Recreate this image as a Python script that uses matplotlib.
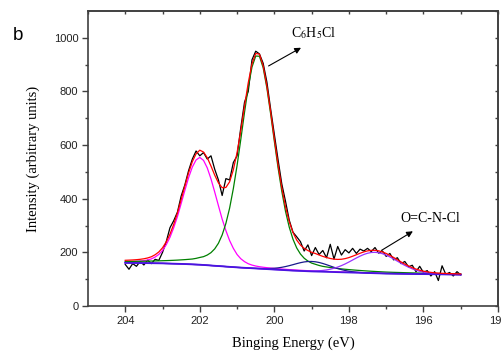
import numpy as np
import matplotlib
matplotlib.use('Agg')
import matplotlib.pyplot as plt

plt.rcParams['font.family'] = 'Liberation Serif'
plt.rcParams['mathtext.fontset'] = 'stix'

# binding energy grid (eV), 0.1 eV step
energy = np.round(np.linspace(204.0, 195.0, 91), 1)

# measured Cl 2p spectrum
raw = [155, 137, 158, 148, 166, 153, 171, 158, 174, 170,
       200, 240, 292, 318, 350, 410, 452, 505, 548, 578,
       560, 572, 548, 560, 510, 470, 412, 475, 470, 535,
       560, 665, 760, 800, 918, 950, 940, 905, 835, 735,
       640, 545, 455, 390, 320, 275, 258, 240, 205, 228,
       188, 218, 192, 207, 180, 230, 175, 222, 190, 210,
       198, 215, 196, 212, 205, 215, 203, 218, 197, 205,
       185, 196, 172, 180, 158, 166, 146, 152, 128, 148,
       125, 132, 112, 128, 95, 150, 118, 125, 112, 128,
       116]

# Shirley-type background
background = [161.0, 160.8, 160.6, 160.4, 160.2, 160.0, 159.8, 159.6, 159.4, 159.2,
              159.0, 158.6, 158.2, 157.8, 157.4, 157.0, 156.4, 155.8, 155.2, 154.6,
              154.0, 153.0, 152.0, 151.0, 150.0, 149.0, 148.0, 147.0, 146.0, 145.0,
              144.0, 143.2, 142.4, 141.6, 140.8, 140.0, 139.2, 138.4, 137.6, 136.8,
              136.0, 135.2, 134.4, 133.6, 132.8, 132.0, 131.4, 130.8, 130.2, 129.6,
              129.0, 128.6, 128.2, 127.8, 127.4, 127.0, 126.6, 126.2, 125.8, 125.4,
              125.0, 124.6, 124.2, 123.8, 123.4, 123.0, 122.6, 122.2, 121.8, 121.4,
              121.0, 120.8, 120.6, 120.4, 120.2, 120.0, 119.8, 119.6, 119.4, 119.2,
              119.0, 118.8, 118.6, 118.4, 118.2, 118.0, 117.8, 117.6, 117.4, 117.2,
              117.0]

# fitted components, height above background
peak_202 = [4.2, 4.7, 5.3, 6.1, 7.3, 9.1, 11.8, 16, 23, 33,
            48, 70, 98, 134, 176, 225, 275, 323, 363, 390,
            400, 390, 363, 323, 275, 225, 176, 134, 98, 70,
            48, 33, 23, 16, 11.8, 9.1, 7.3, 6.1, 5.3, 4.7,
            4.2, 3.9, 3.5, 3.2, 3.0, 2.8, 2.6, 2.4, 2.2, 2.1,
            2.0, 1.8, 1.7, 1.6, 1.5, 1.4, 1.4, 1.3, 1.2, 1.2,
            1.1, 1.1, 1.0, 1.0, 0.9, 0.9, 0.8, 0.8, 0.8, 0.7,
            0.7, 0.7, 0.7, 0.6, 0.6, 0.6, 0.6, 0.5, 0.5, 0.5,
            0.5, 0.5, 0.5, 0.4, 0.4, 0.4, 0.4, 0.4, 0.4, 0.4,
            0.4]

peak_c6h5cl = [5.2, 5.5, 5.8, 6.2, 6.6, 7.0, 7.5, 8.0, 8.6, 9.2,
               9.9, 10.7, 11.6, 12.6, 13.7, 15.0, 16.5, 18.2, 20, 23,
               27, 31, 38, 48, 63, 85, 117, 161, 219, 293,
               380, 478, 580, 675, 750, 792, 792, 750, 675, 580,
               478, 380, 293, 219, 161, 117, 85, 63, 48, 38,
               31, 27, 23, 20, 18.2, 16.5, 15.0, 13.7, 12.6, 11.6,
               10.7, 9.9, 9.2, 8.6, 8.0, 7.5, 7.0, 6.6, 6.2, 5.8,
               5.5, 5.2, 4.9, 4.7, 4.5, 4.2, 4.0, 3.8, 3.7, 3.5,
               3.3, 3.2, 3.1, 2.9, 2.8, 2.7, 2.6, 2.5, 2.4, 2.3,
               2.2]

peak_199 = [0] * 33 + [0.1, 0.2, 0.4, 0.7, 1.1, 1.9, 3.1, 4.7, 7.0, 9.9,
                       13.5, 17.6, 22.1, 26.6, 30.7, 34.1, 36.3, 37, 36.3, 34.1,
                       30.7, 26.6, 22.1, 17.6, 13.5, 9.9, 7.0, 4.7, 3.1, 1.9,
                       1.1, 0.7, 0.4, 0.2, 0.1] + [0] * 23

peak_ocncl = [0] * 45 + [0.1, 0.2, 0.3, 0.5, 0.8, 1.3, 2.1, 3.2, 4.9, 7.1,
                         10.2, 14.1, 19.0, 24.8, 31.5, 39.0, 46.9, 54.8, 62.2, 68.7,
                         73.7, 76.9, 78, 76.9, 73.7, 68.7, 62.2, 54.8, 46.9, 39.0,
                         31.5, 24.8, 19.0, 14.1, 10.2, 7.1, 4.9, 3.2, 2.1, 1.3,
                         0.8, 0.5, 0.3, 0.2, 0.1, 0.0]

bg = np.array(background)
components = [(peak_202, '#ff00ff'), (peak_c6h5cl, '#008000'),
              (peak_199, '#1a1a8c'), (peak_ocncl, '#9933ff')]
envelope = bg + sum(np.array(p) for p, _ in components)

fig = plt.figure(figsize=(5.01, 3.51), dpi=100)
ax = fig.add_axes([0.1756, 0.1282, 0.8184, 0.8405])

ax.plot(energy, raw, color='black', lw=0.9)
for p, c in components:
    ax.plot(energy, bg + np.array(p), color=c, lw=0.9)
ax.plot(energy, bg, color='#4a14e0', lw=1.3)
ax.plot(energy, envelope, color='red', lw=0.9)

ax.set_xlim(205, 194)
ax.set_ylim(0, 1100)
ax.set_xticks([204, 202, 200, 198, 196, 194])
ax.set_xticks(np.arange(195, 205, 2), minor=True)
ax.set_yticks(np.arange(0, 1001, 200))
ax.set_yticks(np.arange(100, 1100, 200), minor=True)

spine_col = '#404040'
for s in ax.spines.values():
    s.set_color(spine_col)
    s.set_linewidth(1.2)
ax.tick_params(which='both', direction='out', color=spine_col, width=1.0,
               top=False, right=False, labelsize=8, labelcolor='#222222')
ax.tick_params(which='major', length=4.5, pad=2.5)
ax.tick_params(which='minor', length=2.5)
for lab in ax.get_xticklabels() + ax.get_yticklabels():
    lab.set_fontfamily('Liberation Sans')

top = ax.secondary_xaxis('top')
top.set_xticks(np.arange(194, 206, 1))
top.tick_params(direction='in', length=2.5, width=1.0, color=spine_col, labeltop=False)
top.spines['top'].set_color(spine_col)
top.spines['top'].set_linewidth(1.2)
right = ax.secondary_yaxis('right')
right.set_yticks(np.arange(0, 1101, 100))
right.tick_params(direction='in', length=2.5, width=1.0, color=spine_col, labelright=False)
right.spines['right'].set_color(spine_col)
right.spines['right'].set_linewidth(1.2)

ax.set_xlabel('Binging Energy (eV)', fontsize=10.5, labelpad=8)
ax.set_ylabel('Intensity (arbitrary units)', fontsize=10.5, labelpad=10)

fig.text(0.036, 0.90, 'b', fontsize=13.5, family='Liberation Sans', va='center', ha='center')

arrow = dict(arrowstyle='-|>', color='black', lw=0.8, mutation_scale=9)
ax.annotate('', xy=(199.22, 968), xytext=(200.22, 890), arrowprops=arrow)
ax.text(198.95, 1017, 'C$_6$H$_5$Cl', fontsize=10, ha='center', va='center')
ax.annotate('', xy=(196.22, 284), xytext=(197.19, 202), arrowprops=arrow)
ax.text(195.81, 325, 'O=C-N-Cl', fontsize=10, ha='center', va='center')

fig.savefig('out.png', dpi=100)
